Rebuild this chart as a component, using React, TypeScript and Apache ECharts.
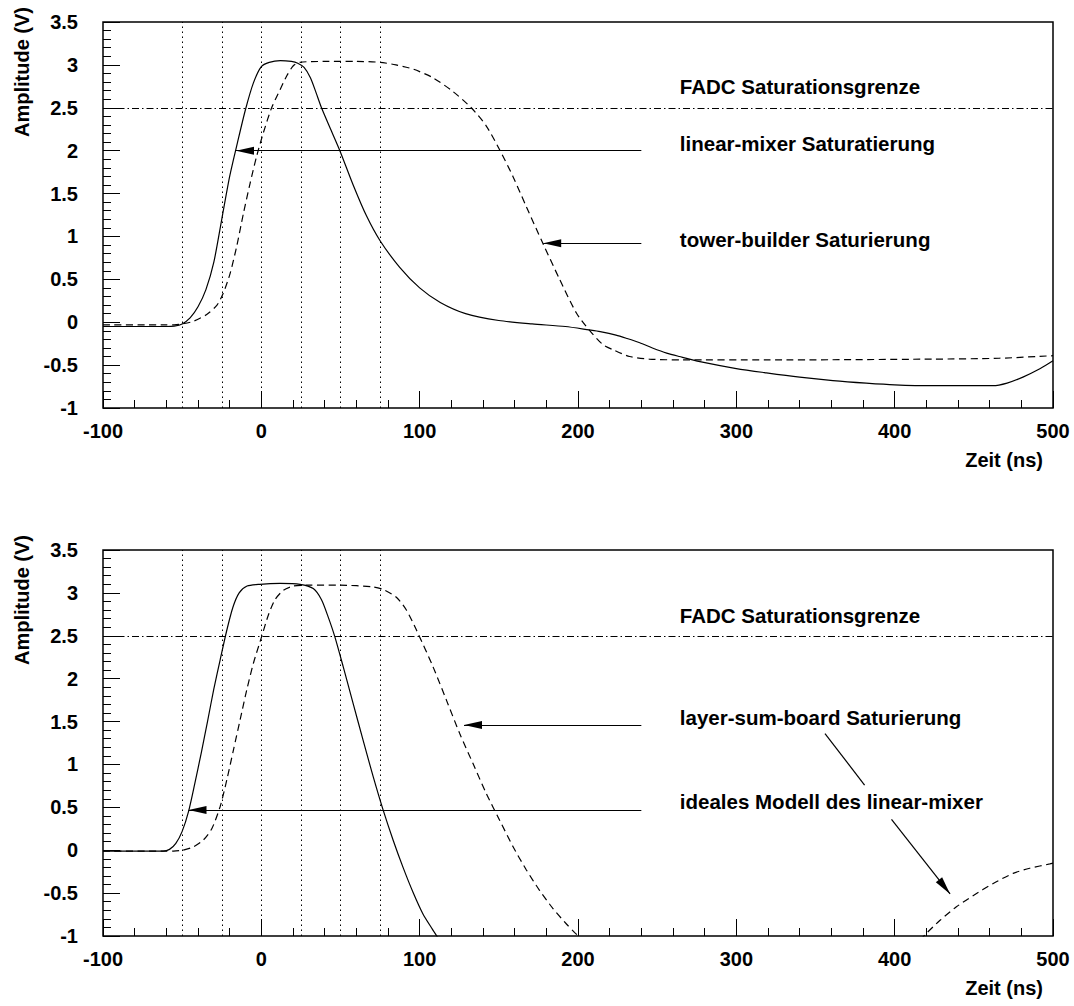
import React, { useEffect, useRef } from "react";
import * as echarts from "echarts";

// ---------- data (x in ns, y in V) ----------
const topSolidX = [-100, -70, -60, -55, -50, -45, -40, -35, -30, -25, -20, -15, -10, -5, 0, 5, 12, 19, 23, 27, 31, 34.5, 38, 43.3, 49.6, 58, 66.4, 75, 87.4, 100, 113, 129, 150, 171, 192, 207, 214, 224, 231, 239, 247, 256, 264, 277, 300, 319, 340, 361, 382, 400, 424, 445, 462, 471, 481, 492, 500];
const topSolidY = [-0.05, -0.05, -0.05, -0.045, -0.02, 0.05, 0.18, 0.38, 0.7, 1.2, 1.7, 2.1, 2.48, 2.79, 2.98, 3.03, 3.05, 3.04, 3.02, 2.97, 2.85, 2.68, 2.5, 2.27, 2.0, 1.6, 1.24, 0.95, 0.64, 0.4, 0.23, 0.1, 0.02, -0.02, -0.05, -0.09, -0.11, -0.15, -0.19, -0.24, -0.3, -0.36, -0.4, -0.46, -0.54, -0.59, -0.64, -0.68, -0.71, -0.73, -0.74, -0.74, -0.74, -0.71, -0.64, -0.54, -0.45];

const topDashX = [-100, -60, -55, -50, -43, -34.5, -28, -24, -19.7, -15.5, -11.3, -7.1, -2.9, 1.3, 6.5, 11.8, 16, 20.2, 24.4, 39, 60, 75, 85, 96, 108.4, 121, 132.6, 142, 150.5, 158.9, 167.3, 177.8, 188.4, 198.9, 207, 215.7, 222, 232.6, 245, 266, 319, 424, 466, 500];
const topDashY = [-0.03, -0.03, -0.03, -0.02, 0.01, 0.09, 0.2, 0.34, 0.57, 0.89, 1.27, 1.62, 1.94, 2.21, 2.5, 2.71, 2.87, 2.99, 3.03, 3.04, 3.04, 3.03, 3.0, 2.95, 2.85, 2.69, 2.5, 2.29, 2.01, 1.7, 1.35, 0.92, 0.5, 0.11, -0.09, -0.26, -0.32, -0.4, -0.43, -0.44, -0.44, -0.43, -0.42, -0.39];

const botSolidX = [-100, -70, -62, -58, -54, -50, -46, -42, -38, -34, -30, -26, -22, -18, -14, -9, -1, 11.8, 24.4, 32.8, 38, 42.2, 46.4, 51.7, 58, 64.3, 70.6, 76.9, 83.2, 89.5, 95.8, 102, 108, 111.5, 114];
const botSolidY = [-0.01, -0.01, -0.01, 0.01, 0.08, 0.22, 0.45, 0.78, 1.13, 1.5, 1.88, 2.22, 2.55, 2.83, 3.0, 3.08, 3.1, 3.11, 3.1, 3.05, 2.92, 2.72, 2.49, 2.14, 1.71, 1.28, 0.86, 0.47, 0.12, -0.2, -0.49, -0.74, -0.92, -1.02, -1.09];

const botDashX = [-100, -60, -55.5, -49.8, -42.9, -36.6, -31.3, -26, -21.8, -17.6, -13.4, -9.2, -5, 0.2, 4.4, 8.6, 13.9, 20.2, 28.6, 49.6, 70.6, 76.9, 85.3, 91.6, 97.9, 108.4, 116.9, 125.3, 133.7, 142.1, 150.5, 159, 167.4, 175.8, 184.2, 192.7, 197.9, 203, 300, 416, 420, 428.5, 439, 449.5, 462, 474.8, 485.3, 498, 500];
const botDashY = [-0.01, -0.01, -0.01, 0.0, 0.04, 0.12, 0.25, 0.51, 0.82, 1.17, 1.52, 1.87, 2.18, 2.49, 2.74, 2.92, 3.03, 3.08, 3.09, 3.09, 3.07, 3.04, 2.95, 2.8, 2.57, 2.14, 1.75, 1.36, 1.01, 0.66, 0.35, 0.04, -0.23, -0.47, -0.68, -0.86, -0.96, -1.05, null, -1.05, -0.97, -0.82, -0.66, -0.53, -0.39, -0.27, -0.21, -0.16, -0.15];

// reference lines
const timeMarkers = [-50, -25, 0, 25, 50, 75];
const fadcLimit = 2.5;

// annotations (data coordinates)
const topNotes = [
  { text: "FADC Saturationsgrenze", x: 264, y: 2.75 },
  { text: "linear-mixer Saturatierung", x: 264, y: 2.08 },
  { text: "tower-builder Saturierung", x: 264, y: 0.97 },
];
const botNotes = [
  { text: "FADC Saturationsgrenze", x: 264, y: 2.74 },
  { text: "layer-sum-board Saturierung", x: 264, y: 1.55 },
  { text: "ideales Modell des linear-mixer", x: 264, y: 0.57 },
];
const topArrows = [
  { from: [240, 2.0], to: [-16, 2.0], head: true },
  { from: [240, 0.92], to: [178, 0.92], head: true },
];
const botArrows = [
  { from: [240, 1.46], to: [128, 1.46], head: true },
  { from: [240, 0.47], to: [-46, 0.47], head: true },
  { from: [356, 1.36], to: [381, 0.76], head: false },
  { from: [398, 0.36], to: [435, -0.51], head: true },
];

const FONT = "'Liberation Sans', Arial, Helvetica, sans-serif";
const txt = { color: "#000", fontSize: 20, fontWeight: "bold" as const, fontFamily: FONT };

const pairs = (xs: number[], ys: (number | null)[]) =>
  xs.map((x, i) => [x, ys[i] == null ? "-" : ys[i]]);

function xAxis(gridIndex: number) {
  return {
    type: "value",
    gridIndex,
    min: -100,
    max: 500,
    interval: 100,
    axisLine: { show: false, onZero: false },
    axisTick: { show: true, inside: true, length: 17, lineStyle: { color: "#000", width: 1 } },
    minorTick: { show: true, splitNumber: 5, length: 8, lineStyle: { color: "#000", width: 1 } },
    splitLine: { show: false },
    minorSplitLine: { show: false },
    axisLabel: { ...txt, margin: 13 },
    name: "Zeit (ns)",
    nameLocation: "end",
    nameGap: -10,
    nameTextStyle: { ...txt, align: "right", verticalAlign: "top", padding: [42, 0, 0, 0] },
  };
}

function yAxis(gridIndex: number) {
  return {
    type: "value",
    gridIndex,
    min: -1,
    max: 3.5,
    interval: 0.5,
    axisLine: { show: false, onZero: false },
    axisTick: { show: true, inside: true, length: 17, lineStyle: { color: "#000", width: 1 } },
    minorTick: { show: true, splitNumber: 5, length: 8, lineStyle: { color: "#000", width: 1 } },
    splitLine: { show: false },
    minorSplitLine: { show: false },
    axisLabel: { ...txt, margin: 25 },
  };
}

function arrowData(arrows: { from: number[]; to: number[]; head: boolean }[]) {
  return arrows.map((a) => [
    { coord: a.from, symbol: "none" },
    {
      coord: a.to,
      symbol: a.head ? "triangle" : "none",
      symbolSize: [8, 18],
      symbolOffset: [0, 9],
    },
  ]);
}

function noteData(notes: { text: string; x: number; y: number }[]) {
  return notes.map((n) => ({ name: n.text, coord: [n.x, n.y] }));
}

function refLines() {
  return {
    silent: true,
    animation: false,
    symbol: ["none", "none"],
    label: { show: false },
    data: [
      ...timeMarkers.map((v) => ({
        xAxis: v,
        lineStyle: { type: [1.5, 3.5], width: 1, color: "#000" },
      })),
      { yAxis: fadcLimit, lineStyle: { type: [7, 3, 1.5, 3], width: 1, color: "#000" } },
    ],
  };
}

function solidSeries(idx: number, xs: number[], ys: (number | null)[], arrows: any, notes: any) {
  return {
    type: "line",
    xAxisIndex: idx,
    yAxisIndex: idx,
    data: pairs(xs, ys),
    showSymbol: false,
    symbol: "none",
    smooth: 0.25,
    silent: true,
    lineStyle: { color: "#000", width: 1.2, type: "solid" },
    markLine: {
      silent: true,
      animation: false,
      label: { show: false },
      lineStyle: { color: "#000", width: 1.2, type: "solid" },
      itemStyle: { color: "#000" },
      data: arrowData(arrows),
    },
    markPoint: {
      silent: true,
      animation: false,
      symbol: "rect",
      symbolSize: 1,
      itemStyle: { color: "rgba(0,0,0,0)" },
      label: {
        show: true,
        position: "right",
        distance: 0,
        formatter: "{b}",
        ...txt,
        fontSize: 20.5,
        verticalAlign: "middle",
      },
      data: noteData(notes),
    },
  };
}

function dashSeries(idx: number, xs: number[], ys: (number | null)[]) {
  return {
    type: "line",
    xAxisIndex: idx,
    yAxisIndex: idx,
    data: pairs(xs, ys),
    showSymbol: false,
    symbol: "none",
    smooth: 0.25,
    connectNulls: false,
    silent: true,
    lineStyle: { color: "#000", width: 1.2, type: [7, 4.5] },
    markLine: refLines(),
  };
}

export default function App() {
  const ref = useRef<HTMLDivElement>(null);
  useEffect(() => {
    if (!ref.current) return;
    const chart = echarts.init(ref.current, undefined, { renderer: "svg" });
    const titleY = (y: number) => ({
      type: "text",
      x: 22,
      y,
      rotation: Math.PI / 2,
      style: {
        text: "Amplitude (V)",
        fill: "#000",
        font: `bold 20px ${FONT}`,
        textAlign: "right",
        textVerticalAlign: "middle",
      },
    });
    chart.setOption({
      animation: false,
      backgroundColor: "#fff",
      grid: [
        { left: 103, top: 22, width: 950, height: 386, show: true, borderColor: "#000", borderWidth: 1.5 },
        { left: 103, top: 550, width: 950, height: 386, show: true, borderColor: "#000", borderWidth: 1.5 },
      ],
      xAxis: [xAxis(0), xAxis(1)],
      yAxis: [yAxis(0), yAxis(1)],
      series: [
        solidSeries(0, topSolidX, topSolidY, topArrows, topNotes),
        dashSeries(0, topDashX, topDashY),
        solidSeries(1, botSolidX, botSolidY, botArrows, botNotes),
        dashSeries(1, botDashX, botDashY),
      ],
      graphic: [titleY(7), titleY(535)],
    });
    return () => chart.dispose();
  }, []);
  return (
    <div
      ref={ref}
      style={{ position: "fixed", left: 0, top: 0, width: 1074, height: 1006, background: "#fff" }}
    />
  );
}
